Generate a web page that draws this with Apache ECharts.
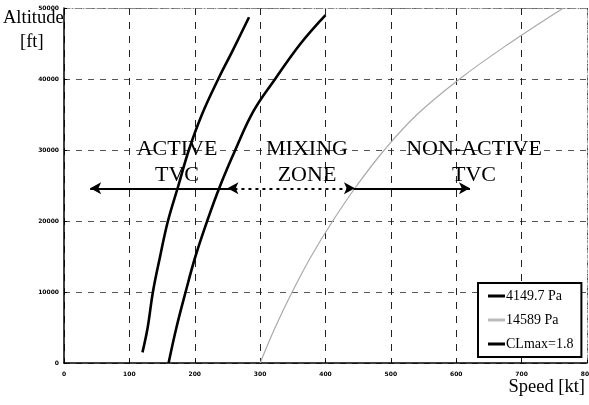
<!DOCTYPE html>
<html><head><meta charset="utf-8">
<script src="https://cdn.jsdelivr.net/npm/echarts@6/dist/echarts.min.js"></script>
<style>html,body{margin:0;padding:0;background:#fff}#c{width:589px;height:405px}</style>
</head><body><div id="c"></div>
<script>
// Data: [speed kt, altitude ft]
var seriesNames = ['4149.7 Pa', '14589 Pa', 'CLmax=1.8'];
var q4149 = [[160,0],[172,5000],[186,10000],[201,15000],[219,20000],[239,25000],[262,30000],[290,35500],[323,40000],[362,45000],[400,49000]];
var q14589 = [[300,0],[323,5000],[349,10000],[378,15000],[411,20000],[448,25000],[490,30000],[540,35000],[605,40000],[681,45000],[764,50000]];
var clmax = [[120,1500],[128,5000],[136,10000],[147,15000],[159,20000],[175,25000],[191,30000],[211,35000],[236,40000],[258,44000],[283,48700]];
var xTicks = [0,100,200,300,400,500,600,700,800];
var yTicks = [0,10000,20000,30000,40000,50000];
// Arrow annotations (speed range at altitude)
var arrowAlt = 24600;
var activeArrow = [254, 40];      // from -> to (arrow head at 'to')
var mixingArrow = [250, 445];     // double-headed dotted
var nonActiveArrow = [445, 621];  // arrow head at end

var serif = '"Liberation Serif", "DejaVu Serif", serif';
var chart = echarts.init(document.getElementById('c'), null, {renderer:'canvas'});
var tickLabel = {fontSize:6, fontWeight:'bold', color:'#000', fontFamily:'"DejaVu Sans", sans-serif', formatter:function(v){return String(v);}};
var option = {
  animation:false,
  backgroundColor:'#fff',
  grid:{left:64, right:2, top:8, bottom:42, containLabel:false, outerBoundsMode:'none'},
  xAxis:[{
    type:'value', min:xTicks[0], max:xTicks[xTicks.length-1], interval:100,
    axisLine:{show:true, lineStyle:{color:'#000', width:1.5}},
    axisTick:{show:true, inside:true, length:3, lineStyle:{color:'#000'}},
    axisLabel:Object.assign({margin:8}, tickLabel),
    splitLine:{show:true, lineStyle:{color:'#222', type:[7,7], width:1}}
  },{
    type:'value', position:'top', min:0, max:800, interval:100,
    axisLine:{show:true, onZero:false, lineStyle:{color:'#888', type:[6,2,1,2], width:1}},
    axisTick:{show:false}, axisLabel:{show:false}, splitLine:{show:false}
  }],
  yAxis:[{
    type:'value', min:yTicks[0], max:yTicks[yTicks.length-1], interval:10000,
    axisLine:{show:true, lineStyle:{color:'#000', width:1.5}},
    axisTick:{show:true, inside:true, length:3, lineStyle:{color:'#000'}},
    axisLabel:Object.assign({margin:5}, tickLabel),
    splitLine:{show:true, lineStyle:{color:'#555', type:[6,6], width:1}}
  },{
    type:'value', position:'right', min:0, max:50000, interval:10000,
    axisLine:{show:true, onZero:false, lineStyle:{color:'#999', type:[3,2], width:1}},
    axisTick:{show:false}, axisLabel:{show:false}, splitLine:{show:false}
  }],
  legend:{
    data:seriesNames, orient:'vertical', left:478, top:283, width:102,
    padding:[6,8,6,10], itemGap:10, itemWidth:17, itemHeight:3, icon:'rect',
    backgroundColor:'#fff', borderColor:'#000', borderWidth:2, borderRadius:0,
    textStyle:{fontFamily:serif, fontSize:14, color:'#000', padding:[0,0,0,-4]}
  },
  series:[
    {name:seriesNames[0], type:'line', data:q4149, smooth:0.4, showSymbol:false, lineStyle:{color:'#000', width:2.6}, itemStyle:{color:'#000'}, z:3},
    {name:seriesNames[1], type:'line', data:q14589, smooth:0.4, showSymbol:false, lineStyle:{color:'#aaa', width:1.2}, itemStyle:{color:'#bbb'}, z:3},
    {name:seriesNames[2], type:'line', data:clmax, smooth:0.4, showSymbol:false, lineStyle:{color:'#000', width:2.6}, itemStyle:{color:'#000'}, z:3},
    {name:'arrows', type:'line', data:[], silent:true,
      markLine:{silent:true, animation:false, symbolSize:[9,11], label:{show:false},
        data:[
          [{coord:[activeArrow[0],arrowAlt], symbol:'none', lineStyle:{color:'#000', width:2, type:'solid'}},{coord:[activeArrow[1],arrowAlt], symbol:'arrow'}],
          [{coord:[mixingArrow[0],arrowAlt], symbol:'arrow', lineStyle:{color:'#000', width:2, type:[3,4]}},{coord:[mixingArrow[1],arrowAlt], symbol:'arrow'}],
          [{coord:[nonActiveArrow[0],arrowAlt], symbol:'none', lineStyle:{color:'#000', width:2, type:'solid'}},{coord:[nonActiveArrow[1],arrowAlt], symbol:'arrow'}]
        ]}, z:4}
  ],
  graphic:[
    {type:'text', left:3, top:9, style:{text:'Altitude', font:'18.5px '+serif, fill:'#000'}},
    {type:'text', left:20, top:33, style:{text:'[ft]', font:'18.5px '+serif, fill:'#000'}},
    {type:'text', right:4, top:378, style:{text:'Speed [kt]', font:'18.5px '+serif, fill:'#000'}},
    {type:'text', x:177, y:136, style:{text:'ACTIVE\nTVC', font:'22px '+serif, fill:'#000', align:'center', lineHeight:26}, z:5},
    {type:'text', x:307, y:136, style:{text:'MIXING\nZONE', font:'22px '+serif, fill:'#000', align:'center', lineHeight:26}, z:5},
    {type:'text', x:474, y:136, style:{text:'NON-ACTIVE\nTVC', font:'22px '+serif, fill:'#000', align:'center', lineHeight:26}, z:5}
  ]
};
chart.setOption(option);
</script></body></html>
